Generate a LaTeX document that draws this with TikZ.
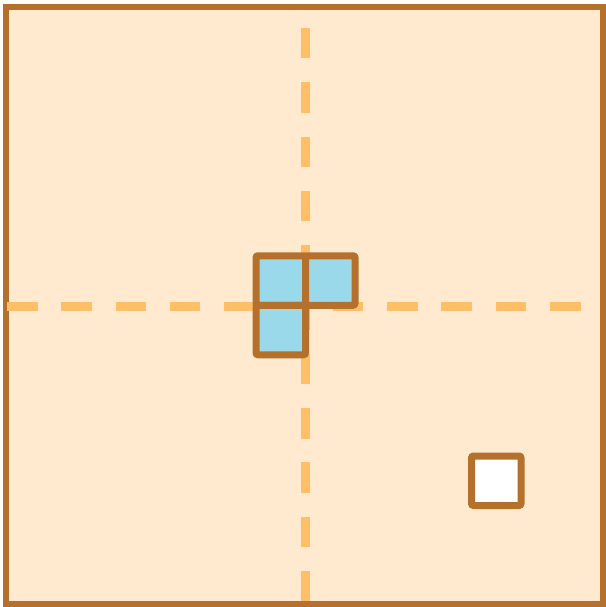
\documentclass[tikz,border=0pt]{standalone}
\definecolor{frame}{HTML}{B5712C}
\definecolor{paper}{HTML}{FFEACF}
\definecolor{dashc}{HTML}{FFBF66}
\definecolor{tileblue}{HTML}{99D9EA}
\tikzset{
  tile/.style={draw=frame, line width=7pt, rounded corners=2pt, minimum size=49.5pt, inner sep=0pt, outer sep=0pt},
  axisline/.style={draw=dashc, line width=9pt, dash pattern=on 30.5pt off 23.8pt}
}
\begin{document}
\begin{tikzpicture}[x=1pt,y=-1pt]
\useasboundingbox (0,0) rectangle (605,607);
\draw[frame, fill=paper, line width=6pt] (6,7) rectangle (602.5,603.5);
\coordinate (vtop) at (305.5,28);
\coordinate (vbot) at (305.5,601);
\coordinate (hl) at (7,306);
\coordinate (hr) at (583,306);
\draw[axisline] (vtop) -- (vbot);
\draw[axisline] (hl) -- (hr);
\node[tile, fill=tileblue] (c1) at (280.75,280.5) {};
\node[tile, fill=tileblue] (c2) at (330.25,280.5) {};
\node[tile, fill=tileblue] (c3) at (280.75,330) {};
\node[tile, fill=white] (w) at (496.25,480.75) {};
\end{tikzpicture}
\end{document}
